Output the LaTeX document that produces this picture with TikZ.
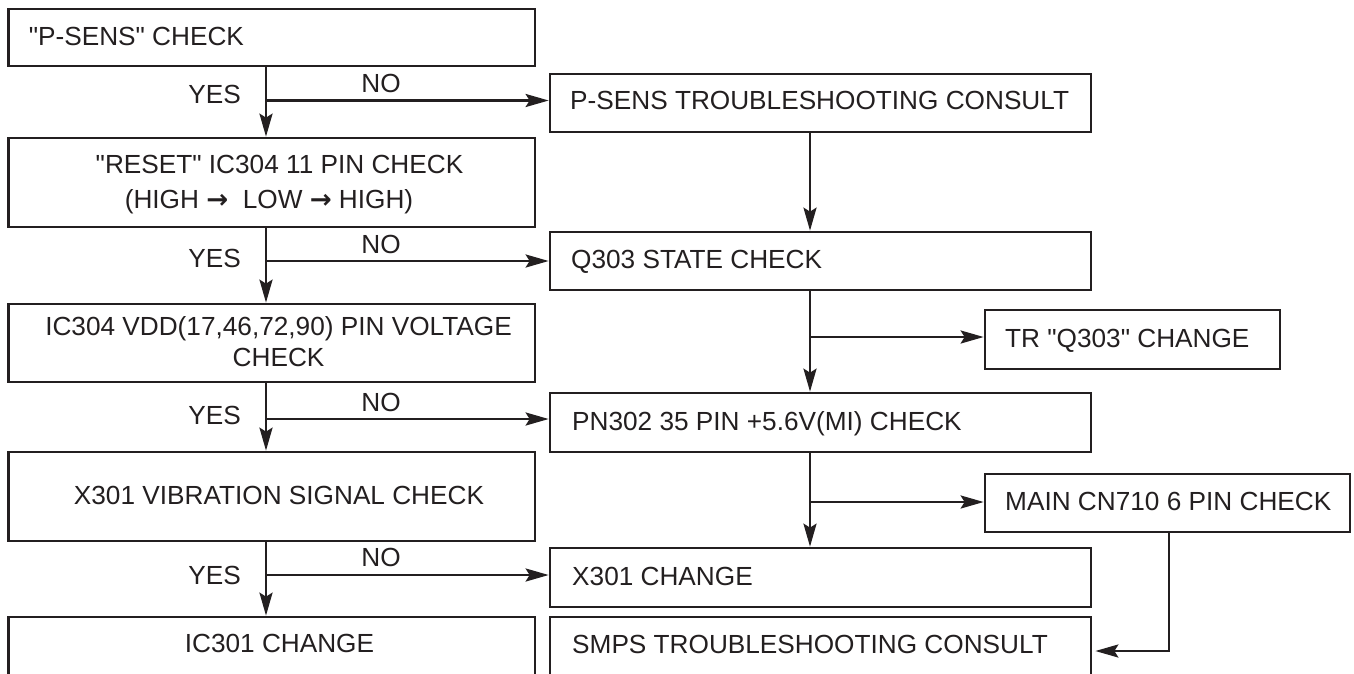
\documentclass[tikz,border=0pt]{standalone}
\usepackage{fontspec}
\setmainfont{Liberation Sans}
\newfontfamily\arrowfont{DejaVu Sans}
\usetikzlibrary{arrows.meta}
\definecolor{ink}{RGB}{35,31,32}
\newcommand{\rarr}{{\arrowfont\bfseries →}}
\begin{document}
\begin{tikzpicture}[x=1pt,y=-1pt,
  box/.style={draw=ink, line width=2.7pt, rectangle, inner sep=0pt},
  lbl/.style={inner sep=0pt, text=ink, font=\fontsize{26.2}{30}\selectfont},
  conn/.style={line width=2.6pt, draw=ink, line join=miter},
  arr/.style={conn, -{Stealth[length=23pt,width=13pt,inset=4pt]}}]
\useasboundingbox (0,0) rectangle (1354,673);
\fill[white] (0,0) rectangle (1354,673);
\begin{scope}
\clip (0,0) rectangle (1354,673);
% left column
\node[box, minimum width=526.4pt, minimum height=57pt] (b1) at (271.8,37.5) {};
\node[lbl, anchor=base west] (t1) at (28.6,45) {\textquotedbl P-SENS\textquotedbl\ CHECK};
\node[box, minimum width=526.4pt, minimum height=89pt] (b2) at (271.8,182.5) {};
\node[lbl, anchor=base] (t2a) at (279.5,173) {\textquotedbl RESET\textquotedbl\ IC304 11 PIN CHECK};
\node[lbl, anchor=base] (t2b) at (269,208) {(HIGH \rarr\ \ LOW \rarr\ HIGH)};
\node[box, minimum width=526.4pt, minimum height=78pt] (b3) at (271.8,343) {};
\node[lbl, anchor=base] (t3a) at (278.5,335) {IC304 VDD(17,46,72,90) PIN VOLTAGE};
\node[lbl, anchor=base] (t3b) at (278.6,366) {CHECK};
\node[box, minimum width=526.4pt, minimum height=89pt] (b4) at (271.8,496.5) {};
\node[lbl, anchor=base] (t4) at (279,504) {X301 VIBRATION SIGNAL CHECK};
\node[box, minimum width=526.4pt, minimum height=60pt] (b5) at (271.8,647) {};
\node[lbl, anchor=base] (t5) at (279.5,652) {IC301 CHANGE};
% right column
\node[box, minimum width=541pt, minimum height=58pt] (ts) at (820.5,103) {};
\node[lbl, anchor=base west] (tts) at (570,109.5) {P-SENS TROUBLESHOOTING CONSULT};
\node[box, minimum width=541pt, minimum height=58pt] (q303) at (820.5,261) {};
\node[lbl, anchor=base west] (tq) at (571,268.5) {Q303 STATE CHECK};
\node[box, minimum width=295pt, minimum height=59pt] (tr) at (1132.5,339.5) {};
\node[lbl, anchor=base west] (ttr) at (1005,347) {TR \textquotedbl Q303\textquotedbl\ CHANGE};
\node[box, minimum width=541pt, minimum height=59pt] (pn) at (820.5,422.5) {};
\node[lbl, anchor=base west] (tpn) at (572,430) {PN302 35 PIN +5.6V(MI) CHECK};
\node[box, minimum width=365pt, minimum height=58pt] (main) at (1167.5,503) {};
\node[lbl, anchor=base west] (tmain) at (1005,510) {MAIN CN710 6 PIN CHECK};
\node[box, minimum width=541pt, minimum height=59pt] (xch) at (820.5,577.5) {};
\node[lbl, anchor=base west] (txch) at (572,585) {X301 CHANGE};
\node[box, minimum width=541pt, minimum height=60pt] (smps) at (820.5,647) {};
\node[lbl, anchor=base west] (tsmps) at (572,653) {SMPS TROUBLESHOOTING CONSULT};
\end{scope}
% left connectors
\coordinate (r1) at (266,100.5);
\coordinate (r2) at (266,261);
\coordinate (r3) at (266,419);
\coordinate (r4) at (266,575);
\draw[arr] (b1.south -| r1) -- (b2.north -| r1);
\draw[arr] (b2.south -| r1) -- (b3.north -| r1);
\draw[arr] (b3.south -| r1) -- (b4.north -| r1);
\draw[arr] (b4.south -| r1) -- (b5.north -| r1);
\draw[arr] (r1) -- (r1 -| ts.west);
\draw[arr] (r2) -- (r2 -| q303.west);
\draw[arr] (r3) -- (r3 -| pn.west);
\draw[arr] (r4) -- (r4 -| xch.west);
\node[lbl, anchor=base east] (y1) at (241,103) {YES};
\node[lbl, anchor=base east] (y2) at (241,267) {YES};
\node[lbl, anchor=base east] (y3) at (241,424) {YES};
\node[lbl, anchor=base east] (y4) at (241,584) {YES};
\node[lbl, anchor=base] (n1) at (381,92) {NO};
\node[lbl, anchor=base] (n2) at (381,253) {NO};
\node[lbl, anchor=base] (n3) at (381,411) {NO};
\node[lbl, anchor=base] (n4) at (381,566) {NO};
% right connectors
\coordinate (s1) at (810,337);
\coordinate (s2) at (810,502);
\draw[arr] (ts.south -| s1) -- (q303.north -| s1);
\draw[arr] (q303.south -| s1) -- (pn.north -| s1);
\draw[arr] (s1) -- (s1 -| tr.west);
\draw[arr] (pn.south -| s2) -- (xch.north -| s2);
\draw[arr] (s2) -- (s2 -| main.west);
\coordinate (k) at (1169,651);
\draw[arr, shorten >=3pt] (main.south -| k) -- (k) -- (k -| smps.east);
\end{tikzpicture}
\end{document}
